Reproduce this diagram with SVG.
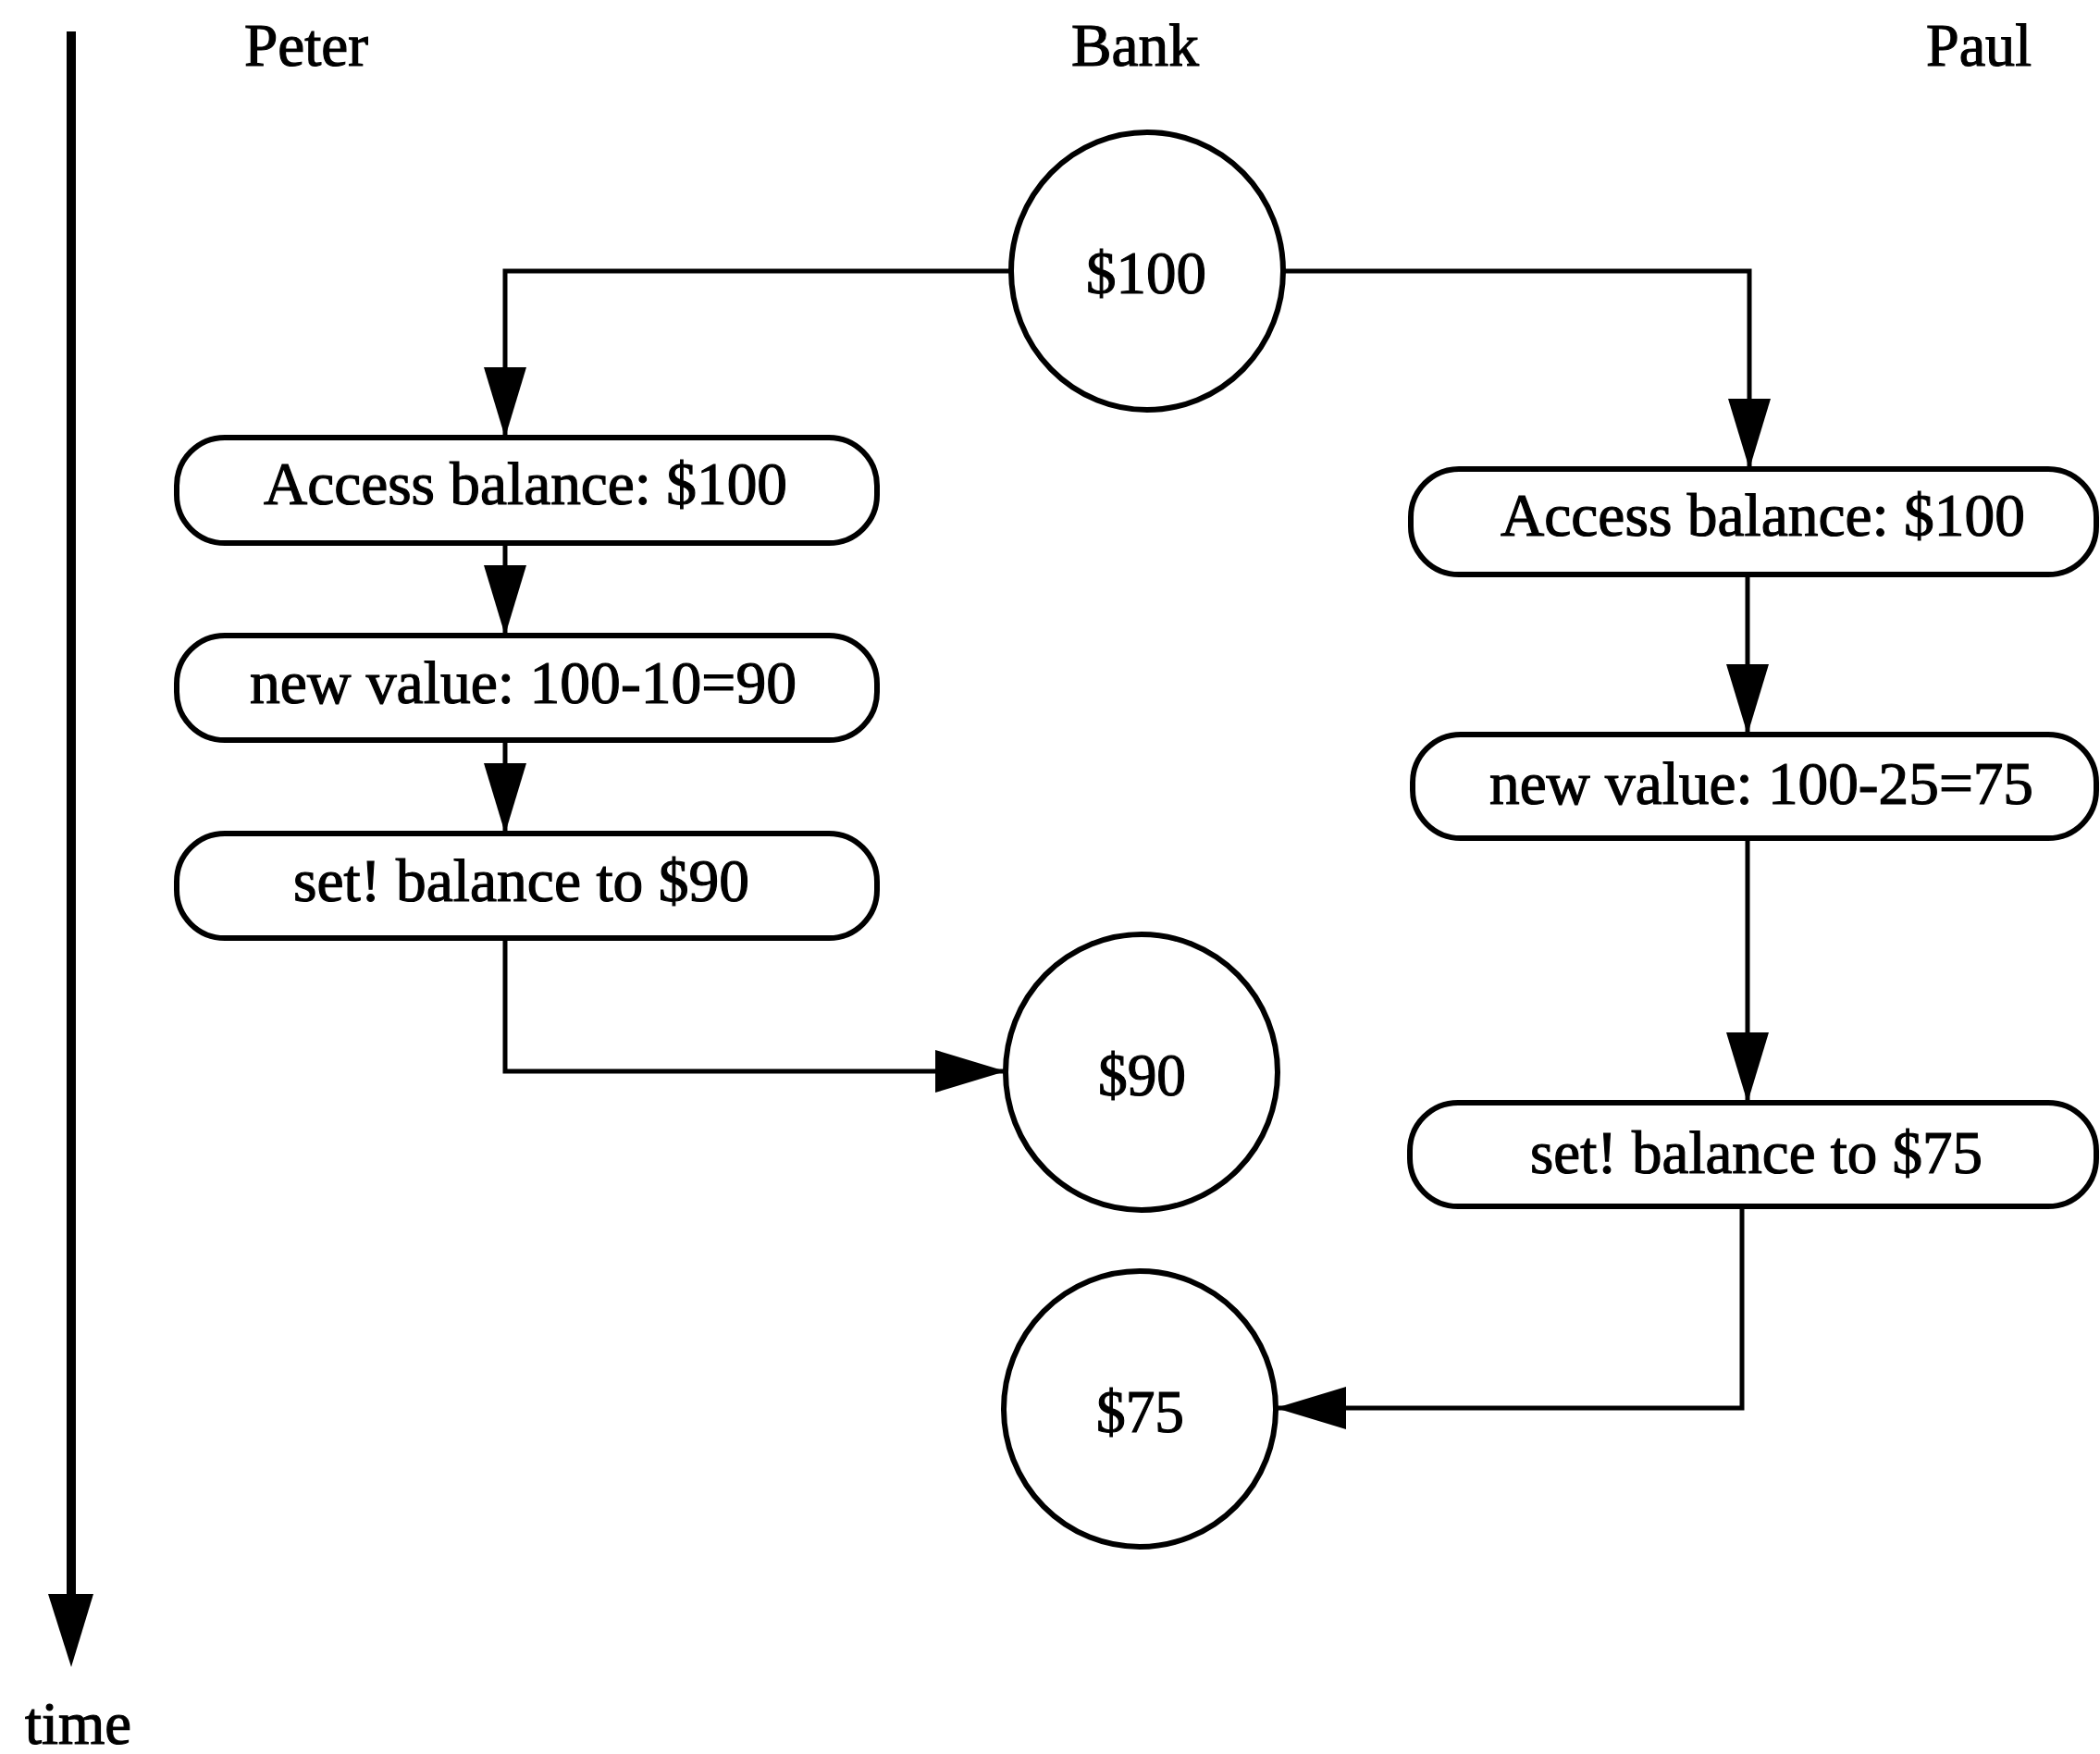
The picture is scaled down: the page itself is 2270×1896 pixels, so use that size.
<svg xmlns="http://www.w3.org/2000/svg" width="2270" height="1896" viewBox="0 0 2270 1896">
<style>
  text { font-family: "Liberation Serif", "Times New Roman", serif; font-size: 66px; fill: #000; stroke: #000; stroke-width: 1.2; }
  .box { fill: #fff; stroke: #000; stroke-width: 6; }
  .conn { fill: none; stroke: #000; stroke-width: 5; marker-end: url(#ah); }
</style>
<defs>
  <marker id="ah" markerUnits="userSpaceOnUse" markerWidth="80" markerHeight="50" refX="76" refY="23" orient="auto" viewBox="0 0 80 46">
    <path d="M0,0 L76,23 L0,46 z" fill="#000"/>
  </marker>
</defs>
<rect width="2270" height="1896" fill="#fff"/>

<g id="time-axis">
  <line x1="77" y1="34" x2="77" y2="1728" stroke="#000" stroke-width="10"/>
  <polygon points="52,1723 101,1723 77,1802" fill="#000"/>
  <text x="27" y="1885" textLength="115" lengthAdjust="spacingAndGlyphs">time</text>
</g>

<g id="labels">
  <text id="label-peter" x="264" y="71" textLength="134" lengthAdjust="spacingAndGlyphs">Peter</text>
  <text id="label-bank" x="1158" y="71" textLength="138" lengthAdjust="spacingAndGlyphs">Bank</text>
  <text id="label-paul" x="2082" y="71" textLength="114" lengthAdjust="spacingAndGlyphs">Paul</text>
</g>

<g id="connectors">
  <path class="conn" d="M1092,293 H546 V473"/>
  <path class="conn" d="M1388,293 H1891 V507"/>
  <path class="conn" d="M546,587 V687"/>
  <path class="conn" d="M546,800 V901"/>
  <path class="conn" d="M546,1014 V1158 H1087"/>
  <path class="conn" d="M1889,621 V794"/>
  <path class="conn" d="M1889,906 V1192"/>
  <path class="conn" d="M1883,1304 V1522 H1379"/>
</g>

<g id="bank-100">
  <ellipse class="box" cx="1240" cy="293" rx="147" ry="150"/>
  <text x="1174" y="317" textLength="130" lengthAdjust="spacingAndGlyphs">$100</text>
</g>
<g id="peter-access">
  <rect class="box" x="191" y="473" width="757" height="114" rx="52"/>
  <text x="285" y="545" textLength="566" lengthAdjust="spacingAndGlyphs">Access balance: $100</text>
</g>
<g id="peter-new">
  <rect class="box" x="191" y="687" width="757" height="113" rx="52"/>
  <text x="270" y="760" textLength="591" lengthAdjust="spacingAndGlyphs">new value: 100-10=90</text>
</g>
<g id="peter-set">
  <rect class="box" x="191" y="901" width="757" height="113" rx="52"/>
  <text x="317" y="974" textLength="493" lengthAdjust="spacingAndGlyphs">set! balance to $90</text>
</g>
<g id="paul-access">
  <rect class="box" x="1525" y="507" width="741" height="114" rx="52"/>
  <text x="1622" y="579" textLength="567" lengthAdjust="spacingAndGlyphs">Access balance: $100</text>
</g>
<g id="paul-new">
  <rect class="box" x="1527" y="794" width="739" height="112" rx="52"/>
  <text x="1610" y="869" textLength="588" lengthAdjust="spacingAndGlyphs">new value: 100-25=75</text>
</g>
<g id="paul-set">
  <rect class="box" x="1524" y="1192" width="742" height="112" rx="52"/>
  <text x="1654" y="1268" textLength="489" lengthAdjust="spacingAndGlyphs">set! balance to $75</text>
</g>
<g id="bank-90">
  <ellipse class="box" cx="1234" cy="1159" rx="147" ry="149"/>
  <text x="1187" y="1184" textLength="95" lengthAdjust="spacingAndGlyphs">$90</text>
</g>
<g id="bank-75">
  <ellipse class="box" cx="1232" cy="1523" rx="147" ry="149"/>
  <text x="1185" y="1548" textLength="95" lengthAdjust="spacingAndGlyphs">$75</text>
</g>
</svg>
